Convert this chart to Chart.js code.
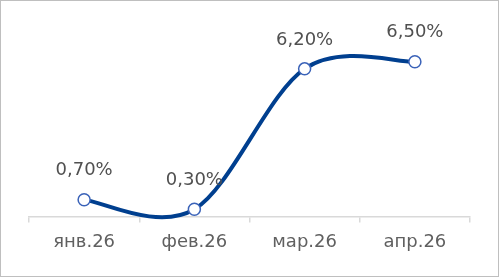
<!DOCTYPE html>
<html>
<head>
<meta charset="utf-8">
<script src="https://cdn.jsdelivr.net/npm/chart.js@4/dist/chart.umd.min.js"></script>
<style>
  body { margin: 0; background: #fff; }
  .box { width: 499px; height: 277px; border: 1px solid #bfbfbf; box-sizing: border-box; position: relative; }
  canvas { position: absolute; left: -1px; top: -1px; }
</style>
</head>
<body>
<div class="box"><canvas id="chart" width="500" height="277"></canvas></div>
<script>
const months = ['янв.26', 'фев.26', 'мар.26', 'апр.26'];
const rates = [0.7, 0.3, 6.2, 6.5];
const rateLabels = ['0,70%', '0,30%', '6,20%', '6,50%'];

const FONT = '"DejaVu Sans"';

// draws the value above each point
const valueLabels = {
    id: 'valueLabels',
    afterDatasetsDraw(chart) {
        const ctx = chart.ctx;
        const meta = chart.getDatasetMeta(0);
        ctx.save();
        ctx.font = '18px ' + FONT;
        ctx.fillStyle = '#505050';
        ctx.textAlign = 'center';
        ctx.textBaseline = 'middle';
        meta.data.forEach((pt, i) => {
            ctx.fillText(rateLabels[i], pt.x, pt.y - 29);
        });
        ctx.restore();
    }
};

// excel-style smoothing: catmull-rom control points (1/6) instead of chart.js spline
const excelSmooth = {
    id: 'excelSmooth',
    beforeDatasetDraw(chart, args) {
        const meta = args.meta;
        const pts = meta.data;
        const n = pts.length;
        for (let i = 0; i < n; i++) {
            const p = pts[i];
            const prev = pts[Math.max(i - 1, 0)];
            const next = pts[Math.min(i + 1, n - 1)];
            const dx = (next.x - prev.x) / 6;
            const dy = (next.y - prev.y) / 6;
            p.cp1x = p.x - dx;
            p.cp1y = p.y - dy;
            p.cp2x = p.x + dx;
            p.cp2y = p.y + dy;
        }
        meta.dataset._pointsUpdated = true;
    }
};

new Chart(document.getElementById('chart'), {
    type: 'line',
    data: {
        labels: months,
        datasets: [{
            data: rates,
            borderColor: '#003f8f',
            borderWidth: 4,
            tension: 0.4,
            capBezierPoints: false,
            pointRadius: 6,
            pointBorderWidth: 1.5,
            pointBackgroundColor: '#ffffff',
            pointBorderColor: '#3a62b8',
            clip: false
        }]
    },
    options: {
        responsive: false,
        animation: false,
        layout: { padding: { left: 29, right: 30, top: 26, bottom: 15 } },
        plugins: { legend: { display: false }, tooltip: { enabled: false } },
        scales: {
            y: { display: false, min: 0, max: 8 },
            x: {
                offset: true,
                grid: {
                    offset: true,
                    drawOnChartArea: false,
                    drawTicks: true,
                    tickLength: 6,
                    color: '#d9d9d9',
                    lineWidth: 1.5
                },
                border: { color: '#d9d9d9', width: 1.5 },
                ticks: {
                    color: '#606060',
                    padding: 9,
                    font: { family: FONT, size: 18 }
                }
            }
        }
    },
    plugins: [excelSmooth, valueLabels]
});
</script>
</body>
</html>
